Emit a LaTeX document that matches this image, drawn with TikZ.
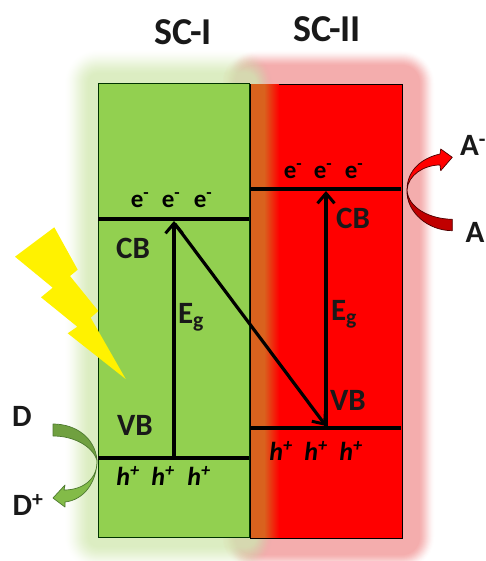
\documentclass[tikz,border=0pt]{standalone}
\usepackage{fontspec}
\setmainfont{Carlito}
\definecolor{boxgreen}{HTML}{92D050}
\definecolor{glowgreen}{HTML}{D4E9B4}
\definecolor{glowred}{HTML}{F29C9C}
\definecolor{overlap}{HTML}{D9621E}
\definecolor{darkleaf}{HTML}{70A040}
\definecolor{leafedge}{HTML}{4E7A30}
\definecolor{darkred}{HTML}{C00000}
\tikzset{
  level/.style={line width=3.2pt},
  transition/.style={line width=3.2pt,-{Straight Barb[length=10pt,width=17pt,line width=3pt]}},
  lab/.style={font=\fontsize{31}{33}\selectfont\bfseries,inner sep=0pt,text=black!90},
  title/.style={font=\fontsize{38}{40}\selectfont\bfseries,inner sep=0pt,text=black!90},
  carrier/.style={font=\fontsize{25}{27}\selectfont\bfseries,inner sep=0pt},
  hole/.style={font=\fontsize{26}{28}\selectfont\bfseries\itshape,inner sep=0pt},
  band/.style={font=\fontsize{31}{33}\selectfont\bfseries,inner sep=0pt,text=black!90},
}
\usetikzlibrary{arrows.meta}
\begin{document}
\begin{tikzpicture}[x=1pt,y=-1pt]
\useasboundingbox (0,0) rectangle (485,561);
% glows
\foreach \r in {33,32,...,18}{
  \pgfmathsetmacro{\op}{.005+.013*(33-\r)}
  \fill[glowred,opacity=\op,rounded corners=\r pt] (249-.8*\r,83-\r) rectangle (402+\r,537+\r);
}
\foreach \r in {34,33,...,10}{
  \pgfmathsetmacro{\op}{.004+.005*(34-\r)}
  \fill[glowgreen,opacity=\op,rounded corners=\r pt] (98-\r,83-\r) rectangle (249+.7*\r,537+\r);
}
% boxes
\node[draw=black!80!green,line width=.9pt,fill=boxgreen,minimum width=151pt,minimum height=454pt,anchor=north west,inner sep=0pt] (sc1) at (98,83) {};
\node[draw=black,line width=.9pt,fill=red,minimum width=152pt,minimum height=454pt,anchor=north west,inner sep=0pt] (sc2) at (250,84) {};
\fill[overlap] (250.5,84.5) rectangle (264,537.5);
\shade[left color=overlap,right color=red] (264,84.5) rectangle (279,537.5);
% level coordinates
\coordinate (cb1l) at (98,219); \coordinate (cb1r) at (249,219);
\coordinate (vb1l) at (98,458); \coordinate (vb1r) at (249,458);
\coordinate (cb2l) at (250,189); \coordinate (cb2r) at (401,189);
\coordinate (vb2l) at (250,428); \coordinate (vb2r) at (401,428);
\coordinate (a1s) at (174,458); \coordinate (a1e) at (174,221);
\coordinate (a2s) at (326,428); \coordinate (a2e) at (326,191);
\coordinate (a3s) at (175,224); \coordinate (a3e) at (326,426);
\draw[level] (cb1l) -- (cb1r);
\draw[level] (vb1l) -- (vb1r);
\draw[level] (cb2l) -- (cb2r);
\draw[level] (vb2l) -- (vb2r);
\draw[transition] (a1s) -- (a1e);
\draw[transition] (a2s) -- (a2e);
\draw[transition] (a3s) -- (a3e);
% lightning
\fill[yellow] (54.3,227.3) -- (15,256.7) -- (52.7,287.7) -- (41,297.3) -- (77.3,326.7) -- (67.7,333.3) -- (125.7,379) -- (90.7,317.7) -- (98.3,311) -- (70,276) -- (77.7,269.7) -- cycle;
% D arrow
\draw[leafedge,line width=.7pt,fill=boxgreen!90!black,line join=round]
  (97,460) .. controls (98,478) and (84,490) .. (64,490) -- (65,485) -- (53,498) -- (65,507) -- (65,502)
  .. controls (84,500) and (97,482) .. (97,460) -- cycle;
\draw[leafedge,line width=.7pt,fill=darkleaf,line join=round]
  (53,424) .. controls (76,424) and (95,438) .. (97,460) .. controls (92,446) and (74,436) .. (53,436) -- cycle;
% A arrow
\draw[black!70!red,line width=.7pt,fill=darkred,line join=round]
  (452.3,219.3) .. controls (430,219) and (408,208) .. (407,190) .. controls (406,212) and (428,230.7) .. (452.3,230.7) -- cycle;
\draw[black!70!red,line width=.7pt,fill=red,line join=round]
  (407,190) .. controls (408,175) and (424,165) .. (440,165) -- (440.7,170.7) -- (452.3,157.3) -- (440.7,149) -- (440,154)
  .. controls (422,158) and (407,170) .. (407,190) -- cycle;
% labels
\node[title] (t1) at (183,32) {SC-I};
\node[title] (t2) at (327,29) {SC-II};
\node[carrier] (e1) at (140,200) {e\textsuperscript{-}};
\node[carrier] (e2) at (171,200) {e\textsuperscript{-}};
\node[carrier] (e3) at (203,200) {e\textsuperscript{-}};
\node[carrier] (e4) at (293,171) {e\textsuperscript{-}};
\node[carrier] (e5) at (323,171) {e\textsuperscript{-}};
\node[carrier] (e6) at (354,171) {e\textsuperscript{-}};
\node[hole] (h1) at (128,476) {h\textsuperscript{+}};
\node[hole] (h2) at (163,476) {h\textsuperscript{+}};
\node[hole] (h3) at (199,476) {h\textsuperscript{+}};
\node[hole] (h4) at (281,451) {h\textsuperscript{+}};
\node[hole] (h5) at (316,451) {h\textsuperscript{+}};
\node[hole] (h6) at (351,451) {h\textsuperscript{+}};
\node[band] (cb1) at (133,248) {CB};
\node[band] (cb2) at (353,218) {CB};
\node[band] (vb1) at (135,425) {VB};
\node[band] (vb2) at (348,400) {VB};
\node[band] (eg1) at (191,317) {E\textsubscript{g}};
\node[band] (eg2) at (344,314) {E\textsubscript{g}};
\node[lab] (d) at (22,416) {D};
\node[lab] (dp) at (28,505) {D\textsuperscript{+}};
\node[lab] (am) at (473,145) {A\textsuperscript{-}};
\node[lab] (a) at (475,232) {A};
\end{tikzpicture}
\end{document}
